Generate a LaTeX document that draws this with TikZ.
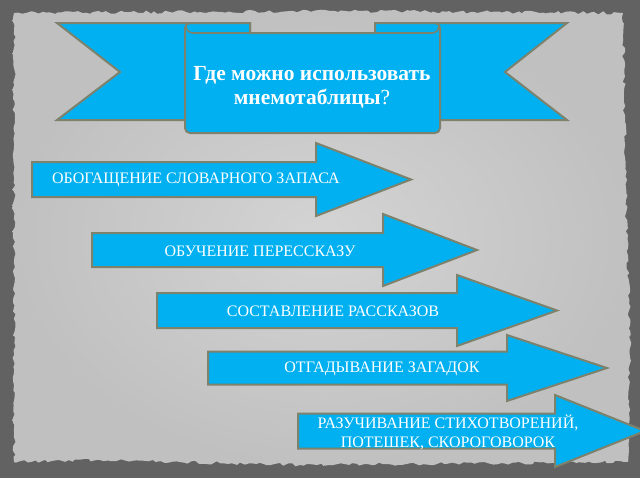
\documentclass[tikz,border=0pt]{standalone}
\usepackage{fontspec}
\setmainfont{Liberation Serif}
\usetikzlibrary{decorations.pathmorphing}
\definecolor{ribfill}{RGB}{0,176,240}
\definecolor{ribedge}{RGB}{125,130,108}
\definecolor{frame}{RGB}{98,98,98}
\definecolor{paperin}{RGB}{212,212,212}
\definecolor{paperout}{RGB}{192,192,192}
\tikzset{
  rib/.style={fill=ribfill, draw=ribedge, line width=2pt, line join=miter},
  fold/.style={draw=ribedge, line width=1.6pt},
  arrtext/.style={text=white, font=\fontsize{16}{19}\selectfont, align=center, inner sep=0pt},
  titletext/.style={text=white, font=\fontsize{21.5}{24}\selectfont\bfseries, align=center, inner sep=0pt}
}
\newcommand\myarrow[7]{% left, headback, tip, cy, body half, head half, name
  \draw[rib] (#1,#4-#5) -- (#2,#4-#5) -- (#2,#4-#6) -- (#3,#4) -- (#2,#4+#6) -- (#2,#4+#5) -- (#1,#4+#5) -- cycle;
  \coordinate (#7) at ({(#1+#2)/2},#4);
}
\begin{document}
\begin{tikzpicture}[x=1pt,y=-1pt]
\useasboundingbox (0,0) rectangle (640,480);
\clip (0,0) rectangle (640,480);
% frame
\fill[frame] (0,0) rectangle (640,480);
\fill[white] (0,478) rectangle (640,480);
\pgfmathsetseed{7}
\shade[inner color=paperin, outer color=paperout, decorate, decoration={random steps, segment length=4pt, amplitude=1.6pt}]
  (14,13) -- (330,11) -- (623,13) -- (626,200) -- (630,330) -- (628,462) -- (300,465) -- (100,460) -- (14,462) -- cycle;
% banner tails
\draw[rib] (57,23) -- (250,23) -- (250,120) -- (57,120) -- (120,72) -- cycle;
\draw[rib] (567,23) -- (375,23) -- (375,120) -- (567,120) -- (505,72) -- cycle;
% banner panel
\draw[rib] (250,33) -- (375,33) -- (375,23) [rounded corners=5pt] -- (440,23) -- (440,133) -- (185,133) -- (185,23) [sharp corners] -- (250,23) -- cycle;
\draw[fold] (185.8,26) to[out=-80,in=180] (193,33) -- (250,33);
\draw[fold] (375,33) -- (432,33) to[out=0,in=-100] (439.2,26);
\node[titletext] (title) at (312,87) {Где можно использовать\\мнемотаблицы{\mdseries ?}};
% arrows
\myarrow{32}{316}{411}{179.5}{17.5}{36.5}{a1}
\myarrow{92}{383}{477}{250}{17}{36}{a2}
\myarrow{157}{457}{557}{310.5}{17.5}{35.5}{a3}
\myarrow{208}{507}{607}{368}{16.5}{33}{a4}
\myarrow{298}{555}{645}{431}{17.5}{36}{a5}
\node[arrtext] (t1) at (196,180) {ОБОГАЩЕНИЕ СЛОВАРНОГО ЗАПАСА};
\node[arrtext] (t2) at (260,251) {ОБУЧЕНИЕ ПЕРЕССКАЗУ};
\node[arrtext] (t3) at (333,311) {СОСТАВЛЕНИЕ РАССКАЗОВ};
\node[arrtext] (t4) at (382,369) {ОТГАДЫВАНИЕ ЗАГАДОК};
\node[arrtext] (t5) at (448,432) {РАЗУЧИВАНИЕ СТИХОТВОРЕНИЙ,\\ПОТЕШЕК, СКОРОГОВОРОК};
\end{tikzpicture}
\end{document}
